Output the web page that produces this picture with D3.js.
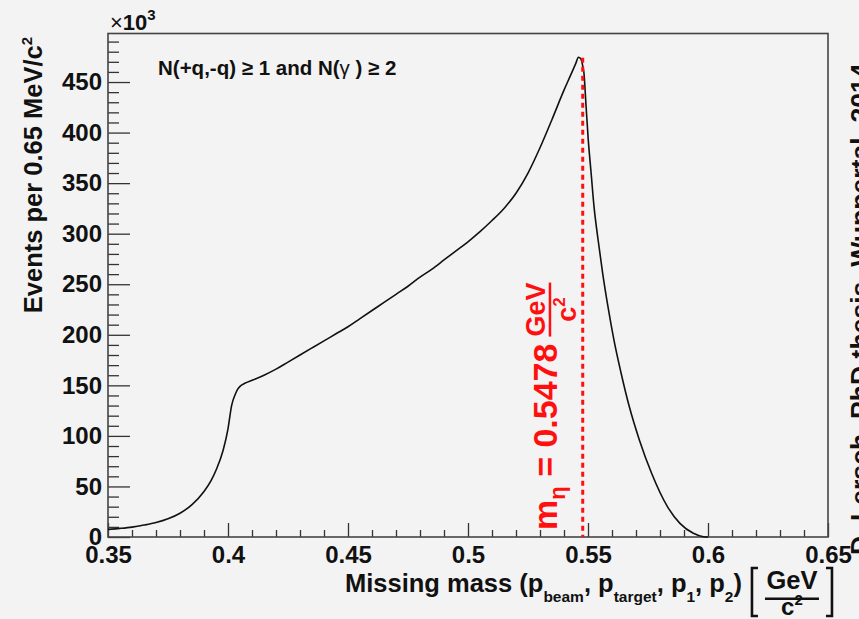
<!DOCTYPE html>
<html>
<head>
<meta charset="utf-8">
<script src="https://cdn.jsdelivr.net/npm/d3@7"></script>
<style>
  body { margin: 0; background: #f3f3f3; }
  svg text { font-family: "Liberation Sans", Arial, Helvetica, sans-serif; font-weight: bold; }
</style>
</head>
<body>
<div id="chart"></div>
<script>
// missing mass (GeV/c^2) and events per bin (x10^3)
const mass = [0.350, 0.355, 0.360, 0.365, 0.370, 0.375, 0.380, 0.385, 0.390, 0.393,
  0.395, 0.398, 0.400, 0.4015, 0.403, 0.404, 0.405, 0.407, 0.410, 0.415,
  0.420, 0.425, 0.430, 0.435, 0.440, 0.445, 0.450, 0.455, 0.460, 0.465,
  0.470, 0.475, 0.480, 0.485, 0.490, 0.495, 0.500, 0.505, 0.510, 0.515,
  0.520, 0.525, 0.530, 0.535, 0.540, 0.543, 0.545, 0.546, 0.547, 0.5478,
  0.5483, 0.5492, 0.5501, 0.5513, 0.5525, 0.5542, 0.5561, 0.5583, 0.5608, 0.5638,
  0.5672, 0.5714, 0.5765, 0.5831, 0.5883, 0.5939, 0.5981, 0.6000];
const events = [7.5, 8.5, 9.8, 11.8, 14.3, 18, 23.5, 32, 45, 56,
  66, 86, 107, 130, 141, 146, 149, 152, 155, 160,
  166, 173, 180, 187, 194, 201, 208, 216, 224, 232,
  240, 248, 257, 265, 274, 283, 292, 302, 313, 325,
  340, 360, 385, 413, 442, 458, 469, 474.5, 473, 466,
  459, 426, 393, 360, 327, 294, 261, 228, 195, 162,
  129, 96, 63, 30, 13.5, 3.7, 0.3, 0];

const xTicks = [0.35, 0.4, 0.45, 0.5, 0.55, 0.6, 0.65];
const xTickLabels = ["0.35", "0.4", "0.45", "0.5", "0.55", "0.6", "0.65"];
const yTicks = [0, 50, 100, 150, 200, 250, 300, 350, 400, 450];
const yTickLabels = ["0", "50", "100", "150", "200", "250", "300", "350", "400", "450"];
const etaMass = 0.5478;

const w = 859, h = 619;
const padL = 108, padR = 828, padT = 33.5, padB = 537;

const x = d3.scaleLinear().domain([0.35, 0.65]).range([padL, padR]);
const y = d3.scaleLinear().domain([0, 498]).range([padB, padT]);

const svg = d3.select('#chart').append('svg')
  .attr('width', w)
  .attr('height', h);

svg.append('rect').attr('width', w).attr('height', h).attr('fill', '#f3f3f3');

// minor ticks
const xMinor = x.ticks(30).filter(d => Math.round(d * 100) % 5 !== 0);
const yMinor = y.ticks(50).filter(d => d % 50 !== 0);

svg.append('g')
  .attr('transform', `translate(0,${padB})`)
  .call(d3.axisBottom(x).tickValues(xMinor).tickSize(-7).tickFormat(''))
  .call(g => g.select('.domain').remove());
svg.append('g')
  .attr('transform', `translate(${padL},0)`)
  .call(d3.axisLeft(y).tickValues(yMinor).tickSize(-11).tickFormat(''))
  .call(g => g.select('.domain').remove());

const xAxis = svg.append('g')
  .attr('transform', `translate(0,${padB})`)
  .call(d3.axisBottom(x).tickValues(xTicks).tickSize(-14).tickPadding(9)
    .tickFormat((d, i) => xTickLabels[i]));
const yAxis = svg.append('g')
  .attr('transform', `translate(${padL},0)`)
  .call(d3.axisLeft(y).tickValues(yTicks).tickSize(-22).tickPadding(6)
    .tickFormat((d, i) => yTickLabels[i]));

svg.selectAll('.tick line').attr('stroke', '#333').attr('stroke-width', 1.3);
[xAxis, yAxis].forEach(a => a.select('.domain').remove());
svg.selectAll('.tick text').attr('font-size', 24).attr('fill', '#111')
  .style('font-family', '"Liberation Sans", Arial, sans-serif').style('font-weight', 'bold');

// frame
svg.append('rect')
  .attr('x', padL).attr('y', padT)
  .attr('width', padR - padL).attr('height', padB - padT)
  .attr('fill', 'none').attr('stroke', '#444').attr('stroke-width', 1.6);

// histogram
const line = d3.line()
  .x(d => x(d[0]))
  .y(d => y(d[1]))
  .curve(d3.curveMonotoneX);

svg.append('path')
  .datum(d3.zip(mass, events))
  .attr('d', line)
  .attr('fill', 'none')
  .attr('stroke', '#111')
  .attr('stroke-width', 1.6);

// eta mass marker
svg.append('line')
  .attr('x1', x(etaMass)).attr('x2', x(etaMass))
  .attr('y1', y(474)).attr('y2', padB)
  .attr('stroke', '#ff1010').attr('stroke-width', 3)
  .attr('stroke-dasharray', '5,4');

const red = svg.append('g')
  .attr('transform', `translate(${x(etaMass) - 26},530) rotate(-90)`)
  .attr('fill', '#ff1010');
const redMain = red.append('text').attr('font-size', 34);
redMain.append('tspan').text('m');
redMain.append('tspan').attr('font-size', 22).attr('dy', 8).text('η');
redMain.append('tspan').attr('dy', -8).text(' = 0.5478');
const redLen = redMain.node().getComputedTextLength();
const fc = redLen + 34;
red.append('text').attr('x', fc).attr('y', -12).attr('font-size', 27)
  .attr('text-anchor', 'middle').text('GeV');
red.append('rect').attr('x', fc - 27).attr('y', -8).attr('width', 54).attr('height', 2.5);
const redDen = red.append('text').attr('x', fc).attr('y', 19).attr('font-size', 27)
  .attr('text-anchor', 'middle');
redDen.append('tspan').text('c');
redDen.append('tspan').attr('font-size', 17).attr('dy', -11).text('2');

// legend
const leg = svg.append('text').attr('x', 158).attr('y', 74.5).attr('font-size', 20.5).attr('fill', '#111');
leg.append('tspan').text('N(+q,-q) ≥ 1 and N(');
leg.append('tspan').style('font-weight', 'normal').text('γ ');
leg.append('tspan').text(') ≥ 2');

// x10^3
const exp = svg.append('text').attr('x', 110).attr('y', 30).attr('font-size', 22).attr('fill', '#111');
exp.append('tspan').style('font-weight', 'normal').text('×');
exp.append('tspan').text('10');
exp.append('tspan').attr('font-size', 15).attr('dy', -10).text('3');

// y title
const yt = svg.append('text')
  .attr('transform', 'translate(42,37) rotate(-90)')
  .attr('text-anchor', 'end').attr('font-size', 25.5).attr('fill', '#111');
yt.append('tspan').text('Events per 0.65 MeV/c');
yt.append('tspan').attr('font-size', 15).attr('dy', -10).text('2');

// x title
const xt0 = 345;
const xt = svg.append('text').attr('x', xt0).attr('y', 592).attr('font-size', 25.5).attr('fill', '#111');
const subs = ['beam', 'target', '1', '2'];
xt.append('tspan').text('Missing mass (p');
subs.forEach((s, i) => {
  xt.append('tspan').attr('font-size', 15.5).attr('dy', 10).text(s);
  xt.append('tspan').attr('dy', -10).text(i < subs.length - 1 ? ', p' : ')');
});
const xtEnd = xt0 + xt.node().getComputedTextLength();
const bl = xtEnd + 10, br = Math.max(bl + 80, 822), fcx = (bl + br) / 2;
const bracket = svg.append('g').attr('fill', 'none').attr('stroke', '#111').attr('stroke-width', 2.6);
bracket.append('path').attr('d', `M${bl + 6},568 H${bl} V616 H${bl + 6}`);
bracket.append('path').attr('d', `M${br - 6},568 H${br} V616 H${br - 6}`);
svg.append('text').attr('x', fcx).attr('y', 589).attr('font-size', 25.5)
  .attr('text-anchor', 'middle').attr('fill', '#111').text('GeV');
svg.append('rect').attr('x', fcx - 27).attr('y', 597.5).attr('width', 54).attr('height', 2.5).attr('fill', '#111');
const xden = svg.append('text').attr('x', fcx).attr('y', 615).attr('font-size', 24)
  .attr('text-anchor', 'middle').attr('fill', '#111');
xden.append('tspan').text('c');
xden.append('tspan').attr('font-size', 15).attr('dy', -10).text('2');

// credit on the right edge
svg.append('text')
  .attr('transform', 'translate(869,555) rotate(-90)')
  .attr('font-size', 26.6).attr('fill', '#111')
  .text('D. Lersch, PhD thesis, Wuppertal, 2014');
</script>
</body>
</html>
